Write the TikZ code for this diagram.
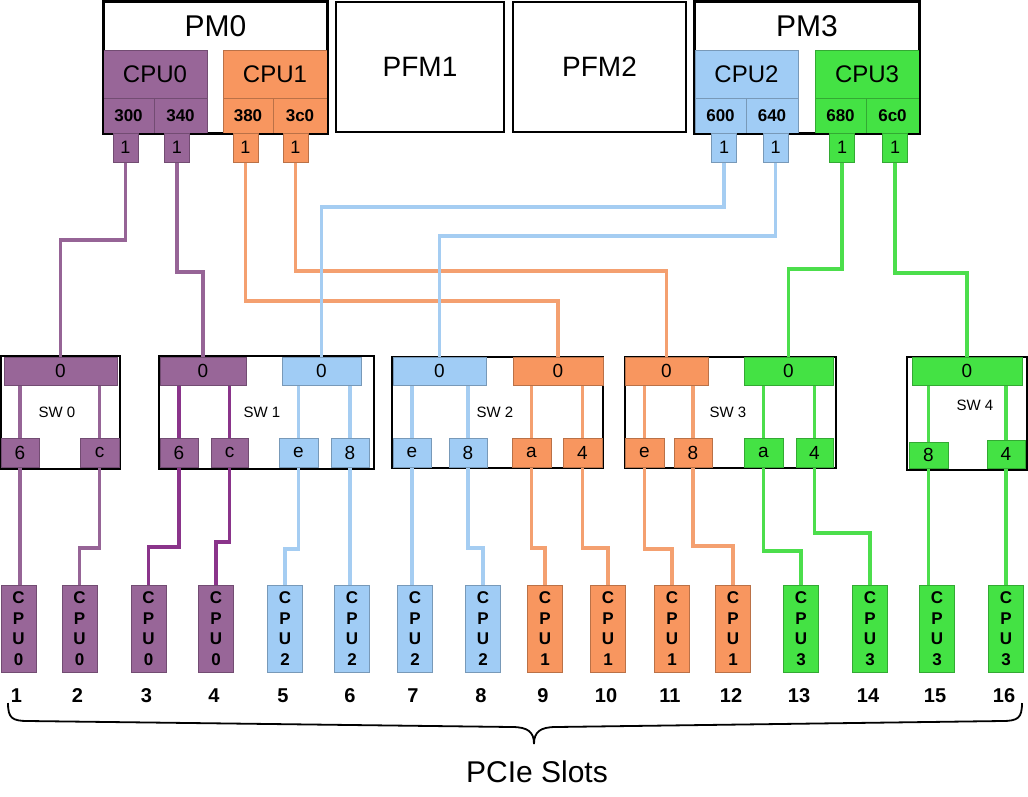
\documentclass[tikz,border=0pt]{standalone}
\usepackage{fontspec}
\setmainfont{Liberation Sans}
\pgfdeclarelayer{frames}
\pgfdeclarelayer{lines}
\pgfsetlayers{frames,lines,main}
\definecolor{purp}{RGB}{152,102,152}
\definecolor{orng}{RGB}{248,150,95}
\definecolor{blu}{RGB}{160,204,245}
\definecolor{grn}{RGB}{68,226,68}
\definecolor{lpurp}{RGB}{150,100,150}
\definecolor{dpurp}{RGB}{138,52,138}
\definecolor{lorng}{RGB}{244,160,112}
\definecolor{lblu}{RGB}{165,205,242}
\definecolor{lgrn}{RGB}{76,222,76}
\tikzset{
 cell/.style={draw=#1!75!black, fill=#1, line width=0.6pt, inner sep=0pt, outer sep=0pt},
 sz/.style 2 args={minimum width=#1, minimum height=#2},
 frame/.style={draw=black, line width=1.6pt, fill=white, inner sep=0pt},
 big/.style={font=\fontsize{28}{30}\selectfont},
 pmt/.style={font=\fontsize{30}{32}\selectfont},
 cpu/.style={font=\fontsize{24}{26}\selectfont},
 addr/.style={font=\bfseries\fontsize{17}{19}\selectfont},
 pnum/.style={font=\fontsize{18}{20}\selectfont},
 swp/.style={font=\fontsize{19}{21}\selectfont},
 swl/.style={font=\fontsize{15}{17}\selectfont},
 slotbox/.style={cell=#1, sz={35}{87}, align=center, font=\bfseries\fontsize{17}{20.5}\selectfont},
 num/.style={font=\bfseries\fontsize{20}{22}\selectfont},
 wire/.style={draw=#1, line width=3.4pt},
 dwire/.style={draw=#1, line width=3.8pt},
}
\begin{document}
\begin{tikzpicture}[x=1pt,y=-1pt]
\begin{pgfonlayer}{frames}
\fill[white] (0,0) rectangle (1028,796);
\end{pgfonlayer}
\useasboundingbox (0,0) rectangle (1028,796);

% ---------- PM0 ----------
\node[frame, sz={223}{131}] (pm0) at (215.5,67.5) {};
\node[pmt] (pm0t) at (215.5,26) {PM0};
\node[cell=purp, sz={104}{48}, cpu] (c0) at (155,74) {CPU0};
\node[cell=purp, sz={51}{35}, addr] (a300) at (128.5,115.5) {300};
\node[cell=purp, sz={53}{35}, addr] (a340) at (180.5,115.5) {340};
\node[cell=orng, sz={104}{48}, cpu] (c1) at (275,74) {CPU1};
\node[cell=orng, sz={50}{35}, addr] (a380) at (248,115.5) {380};
\node[cell=orng, sz={54}{35}, addr] (a3c0) at (300,115.5) {3c0};
\draw[line width=1.6pt] (pm0.north west) rectangle (pm0.south east);

% ---------- PFM ----------
\node[frame, sz={168}{130}, big] (pfm1) at (420,67) {PFM1};
\node[frame, sz={173}{130}, big] (pfm2) at (599.5,67) {PFM2};

% ---------- PM3 ----------
\node[frame, sz={224}{131}] (pm3) at (807,67.5) {};
\node[pmt] (pm3t) at (807,26) {PM3};
\node[cell=blu, sz={103}{48}, cpu] (c2) at (746.5,74) {CPU2};
\node[cell=blu, sz={51}{35}, addr] (a600) at (720.5,115.5) {600};
\node[cell=blu, sz={52}{35}, addr] (a640) at (772,115.5) {640};
\node[cell=grn, sz={104}{48}, cpu] (c3) at (867,74) {CPU3};
\node[cell=grn, sz={51}{35}, addr] (a680) at (840.5,115.5) {680};
\node[cell=grn, sz={53}{35}, addr] (a6c0) at (892.5,115.5) {6c0};
\draw[line width=1.6pt] (pm3.north west) rectangle (pm3.south east);

% ---------- root ports ----------
\node[cell=purp, sz={25}{29}, pnum] (q1) at (125.5,147.5) {1};
\node[cell=purp, sz={25}{29}, pnum] (q2) at (177,147.5) {1};
\node[cell=orng, sz={25}{29}, pnum] (q3) at (245.5,147.5) {1};
\node[cell=orng, sz={25}{29}, pnum] (q4) at (295.5,147.5) {1};
\node[cell=blu, sz={25}{29}, pnum] (q5) at (724,147.5) {1};
\node[cell=blu, sz={25}{29}, pnum] (q6) at (775.5,147.5) {1};
\node[cell=grn, sz={25}{29}, pnum] (q7) at (842,147.5) {1};
\node[cell=grn, sz={25}{29}, pnum] (q8) at (895,147.5) {1};

% ---------- switch frames ----------
\begin{pgfonlayer}{frames}
\node[frame, sz={119}{113}] (sw0) at (60.5,412.5) {};
\node[frame, sz={215}{113}] (sw1) at (266.5,412.5) {};
\node[frame, sz={211}{111}] (sw2) at (497.5,412.5) {};
\node[frame, sz={211}{111}] (sw3) at (730.5,412.5) {};
\node[frame, sz={120}{113}] (sw4) at (967,413.5) {};
\end{pgfonlayer}
\node[swl] (sw0t) at (57,412) {SW 0};
\node[swl] (sw1t) at (262,412) {SW 1};
\node[swl] (sw2t) at (495,412) {SW 2};
\node[swl] (sw3t) at (728,412) {SW 3};
\node[swl] (sw4t) at (975,405) {SW 4};

% upstream ports
\node[cell=purp, sz={113}{28}, swp] (u0) at (60.5,371) {0};
\node[cell=purp, sz={86}{28}, swp] (u1a) at (203,371) {0};
\node[cell=blu, sz={79}{28}, swp] (u1b) at (321.5,371) {0};
\node[cell=blu, sz={93}{28}, swp] (u2a) at (439.5,371) {0};
\node[cell=orng, sz={90}{28}, swp] (u2b) at (558,371) {0};
\node[cell=orng, sz={83}{28}, swp] (u3a) at (666.5,371) {0};
\node[cell=grn, sz={89}{28}, swp] (u3b) at (788.5,371) {0};
\node[cell=grn, sz={110}{28}, swp] (u4) at (967,371) {0};

% downstream ports
\node[cell=purp, sz={38}{29}, swp] (d0a) at (20,452.5) {6};
\node[cell=purp, sz={39}{29}, swp] (d0b) at (99.5,452.5) {c};
\node[cell=purp, sz={38}{29}, swp] (d1a) at (179,452.5) {6};
\node[cell=purp, sz={37}{29}, swp] (d1b) at (229.5,452.5) {c};
\node[cell=blu, sz={39}{29}, swp] (d1c) at (298.5,452.5) {e};
\node[cell=blu, sz={38}{29}, swp] (d1d) at (350,452.5) {8};
\node[cell=blu, sz={38}{29}, swp] (d2a) at (412,452.5) {e};
\node[cell=blu, sz={38}{29}, swp] (d2b) at (468,452.5) {8};
\node[cell=orng, sz={39}{29}, swp] (d2c) at (531.5,452.5) {a};
\node[cell=orng, sz={39}{29}, swp] (d2d) at (582.5,452.5) {4};
\node[cell=orng, sz={39}{29}, swp] (d3a) at (644.5,452.5) {e};
\node[cell=orng, sz={38}{29}, swp] (d3b) at (693,452.5) {8};
\node[cell=grn, sz={39}{29}, swp] (d3c) at (763.5,452.5) {a};
\node[cell=grn, sz={37}{29}, swp] (d3d) at (814.5,452.5) {4};
\node[cell=grn, sz={39}{26}, swp] (d4a) at (928.5,455) {8};
\node[cell=grn, sz={38}{28}, swp] (d4b) at (1006,454) {4};

% ---------- slots ----------
\foreach \i/\x/\c/\n in {1/18.5/purp/0,2/79.5/purp/0,3/148.5/purp/0,4/216/purp/0,
  5/285/blu/2,6/352/blu/2,7/415/blu/2,8/483/blu/2,
  9/545/orng/1,10/608/orng/1,11/672/orng/1,12/733/orng/1,
  13/801/grn/3,14/870/grn/3,15/937/grn/3,16/1006/grn/3}{
  \node[slotbox=\c] (s\i) at (\x,628.5) {C\\P\\U\\\n};
  \node[num] (n\i) at ([xshift=-2pt,yshift=-67pt]s\i.center) {\i};
}

% ---------- connectors ----------
\begin{pgfonlayer}{lines}
\draw[wire=lpurp] (q1.south) -- ++(0,78) -| (u0.north);
\draw[wire=lpurp] (q2.south) -- ++(0,110) -| (u1a.north);
\draw[wire=lorng] (q3.south) -- ++(0,139) -| (u2b.north);
\draw[wire=lorng] (q4.south) -- ++(0,109) -| (u3a.north);
\draw[wire=lblu] (q5.south) -- ++(0,45) -| (u1b.north);
\draw[wire=lblu] (q6.south) -- ++(0,74) -| (u2a.north);
\draw[wire=lgrn] (q7.south) -- ++(0,107) -| (u3b.north);
\draw[wire=lgrn] (q8.south) -- ++(0,111) -| (u4.north);

\draw[wire=lpurp] (d0a.north |- u0.south) -- (d0a.south) -- (d0a.south |- s1.north);
\draw[wire=lpurp] (d0b.north |- u0.south) -- (d0b.south) -- ++(0,81) -| (s2.north);
\draw[dwire=dpurp] (d1a.north |- u1a.south) -- (d1a.south) -- ++(0,80) -| (s3.north);
\draw[dwire=dpurp] (d1b.north |- u1a.south) -- (d1b.south) -- ++(0,75) -| (s4.north);
\draw[wire=lblu] (d1c.north |- u1b.south) -- (d1c.south) -- ++(0,82) -| (s5.north);
\draw[wire=lblu] (d1d.north |- u1b.south) -- (d1d.south) -- (d1d.south |- s6.north);
\draw[wire=lblu] (d2a.north |- u2a.south) -- (d2a.south) -- (d2a.south |- s7.north);
\draw[wire=lblu] (d2b.north |- u2a.south) -- (d2b.south) -- ++(0,81) -| (s8.north);
\draw[wire=lorng] (d2c.north |- u2b.south) -- (d2c.south) -- ++(0,81) -| (s9.north);
\draw[wire=lorng] (d2d.north |- u2b.south) -- (d2d.south) -- ++(0,81) -| (s10.north);
\draw[wire=lorng] (d3a.north |- u3a.south) -- (d3a.south) -- ++(0,82) -| (s11.north);
\draw[wire=lorng] (d3b.north |- u3a.south) -- (d3b.south) -- ++(0,79) -| (s12.north);
\draw[wire=lgrn] (d3c.north |- u3b.south) -- (d3c.south) -- ++(0,84) -| (s13.north);
\draw[wire=lgrn] (d3d.north |- u3b.south) -- (d3d.south) -- ++(0,66) -| (s14.north);
\draw[wire=lgrn] (d4a.north |- u4.south) -- (d4a.south) -- (d4a.south |- s15.north);
\draw[wire=lgrn] (d4b.north |- u4.south) -- (d4b.south) -- (d4b.south |- s16.north);
\end{pgfonlayer}

% ---------- brace ----------
\draw[line width=1.8pt] (8,703) .. controls (8,718) and (12,721) .. (28,721) -- (512,727)
  .. controls (528,727) and (534,732) .. (534,744)
  .. controls (534,732) and (540,727) .. (556,727) -- (1002,721)
  .. controls (1018,721) and (1022,718) .. (1022,703);
\node[pmt] (pcie) at (537,772) {PCIe Slots};
\end{tikzpicture}
\end{document}
